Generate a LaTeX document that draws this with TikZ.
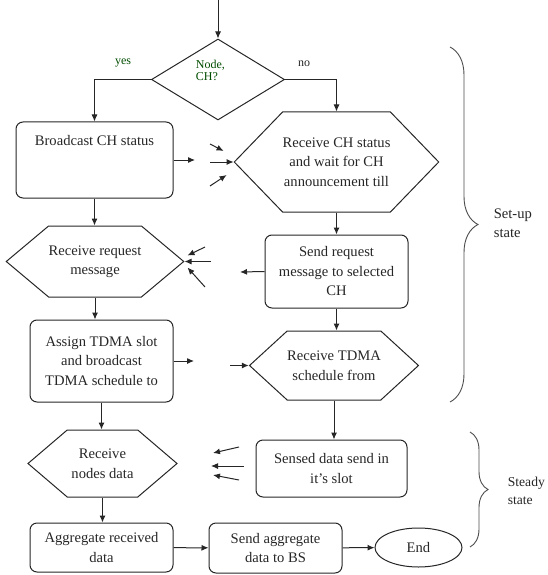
\documentclass[tikz,border=0pt]{standalone}
\usepackage{fontspec}
\setmainfont{Liberation Serif}
\usetikzlibrary{shapes.geometric, shapes.symbols, arrows.meta, decorations.pathreplacing, calc}

\begin{document}
\begin{tikzpicture}[x = 1pt, y = -1pt, align = center, line width = 1pt, color = black!85, font = \fontsize{14.6}{19.5}\selectfont,
	box/.style = {draw, rounded corners = 7pt, inner sep = 0pt},
	hexa/.style = {draw, signal, signal to = west and east, inner sep = 0pt, signal pointer angle = #1},
	decision/.style = {draw, diamond, inner sep = 0pt},
	arr/.style = {-{Latex[length = 7pt, width = 6pt]}},
	brc/.style = {decorate, decoration = {brace, amplitude = #1}, line width = 0.9pt, black!70}]
	\useasboundingbox (0,0) rectangle (547,575);
	\node[decision, minimum width = 133pt, minimum height = 81pt] (1) at (218,79.5) {};
	\node[anchor = west, align = left, color = green!30!black, font = \fontsize{12}{11.5}\selectfont] (2) at (192,70.5) {Node,\\CH?};
	\node[box, minimum width = 157pt, minimum height = 76pt] (3) at (94.5,160) {Broadcast CH status\\~\\~};
	\node[hexa = 92, minimum width = 193pt, minimum height = 100pt] (4) at (336.5,162) {Receive CH status\\and wait for CH\\announcement till};
	\node[hexa = 80, minimum width = 170pt, minimum height = 71pt] (5) at (95,261.5) {Receive request\\message};
	\node[box, minimum width = 143pt, minimum height = 73pt] (6) at (336.5,271.5) {Send request\\message to selected\\CH};
	\node[box, minimum width = 143pt, minimum height = 82pt] (7) at (101.5,361) {Assign TDMA slot\\and broadcast\\TDMA schedule to};
	\node[hexa = 85, minimum width = 164pt, minimum height = 69pt] (8) at (334,365.5) {Receive TDMA\\schedule from};
	\node[hexa = 81, minimum width = 149pt, minimum height = 67pt] (9) at (102.5,463.5) {Receive\\nodes data};
	\node[box, minimum width = 151pt, minimum height = 57pt] (10) at (331.5,468.5) {Sensed data send in\\it's slot};
	\node[box, minimum width = 143pt, minimum height = 49pt] (11) at (101.5,547.5) {Aggregate received\\data};
	\node[box, minimum width = 133pt, minimum height = 50pt] (12) at (275.5,548) {Send aggregate\\data to BS};
	\node[draw, ellipse, inner sep = 0pt, minimum width = 87pt, minimum height = 39pt] (13) at (418.5,547.5) {End};
	\node[anchor = west, align = left] (14) at (490,223) {Set-up\\state};
	\node[anchor = west, align = left, font = \fontsize{13.6}{18}\selectfont] (15) at (504,491) {Steady\\state};
	\node[color = green!30!black, font = \fontsize{12}{14}\selectfont] (16) at (123,63) {yes};
	\node[font = \fontsize{12}{14}\selectfont] (17) at (304,64) {no};

	\coordinate (s) at (218,0);
	\coordinate (o1) at (195,160);
	\coordinate (o2) at (240,272);
	\coordinate (o3) at (194,361);
	\coordinate (a1) at (210,144);
	\coordinate (a2) at (210,162);
	\coordinate (a3) at (210,186);
	\coordinate (b1) at (205,247);
	\coordinate (b2) at (211,261.5);
	\coordinate (b3) at (205,287);
	\coordinate (c1) at (230,365.5);
	\coordinate (d1) at (239,447);
	\coordinate (d2) at (244,466);
	\coordinate (d3) at (239,480);
	\coordinate (e1) at (213,453);
	\coordinate (e2) at (211,466);
	\coordinate (e3) at (213,475);

	\draw[arr] (s) -- (1.north);
	\draw[arr] (1.west) -| (3.north);
	\draw[arr] (1.east) -| (4.north);
	\draw[arr] (3.south) -- (3.south |- 5.north);
	\draw[arr] (4.south) -- (4.south |- 6.north);
	\draw[arr] (5.south) -- (5.south |- 7.north);
	\draw[arr] (6.south) -- (6.south |- 8.north);
	\draw[arr] (7.south) -- (7.south |- 9.north);
	\draw[arr] (8.south) -- (8.south |- 10.north);
	\draw[arr] (9.south) -- (9.south |- 11.north);
	\draw[arr] (11) -- (12);
	\draw[arr] (12) -- (13);
	\draw[arr] (3.east) -- (o1);
	\draw[arr] (6.west) -- (o2);
	\draw[arr] (7.east) -- (o3);
	\draw[arr] (c1) -- (8.west);
	\draw[arr] (a1) -- ($(4.west) + (-10,-11)$);
	\draw[arr] (a2) -- (4.west);
	\draw[arr] (a3) -- ($(4.west) + (-7,13)$);
	\draw[arr] (b1) -- ($(5.east) + (3,-6)$);
	\draw[arr] (b2) -- (5.east);
	\draw[arr] (b3) -- ($(5.east) + (3,6)$);
	\draw[arr] (d1) -- (e1);
	\draw[arr] (d2) -- (e2);
	\draw[arr] (d3) -- (e3);

	\draw[brc = 28pt] (450,47) -- (450,402);
	\draw[brc = 18pt] (470,432) -- (470,547);
\end{tikzpicture}
\end{document}
